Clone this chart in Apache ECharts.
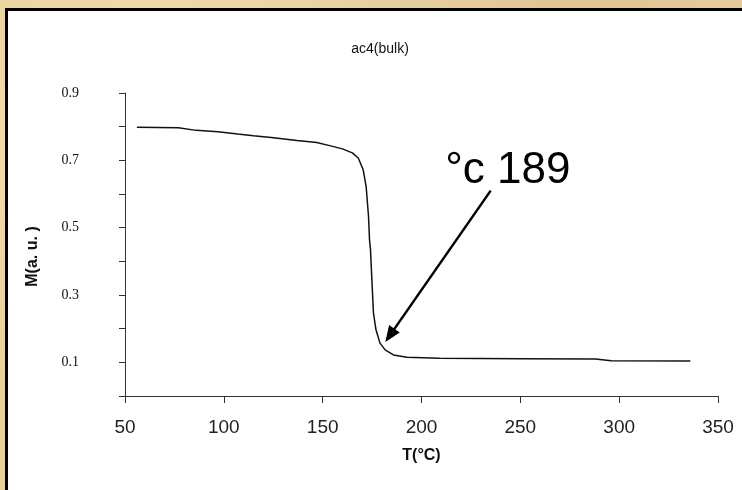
<!DOCTYPE html>
<html>
<head>
<meta charset="utf-8">
<script src="https://cdn.jsdelivr.net/npm/echarts@6/dist/echarts.min.js"></script>
<style>
    html, body {margin: 0; padding: 0; width: 742px; height: 490px; overflow: hidden;
        background: #e8d1a0;
        background-image: radial-gradient(circle at 20% 30%, rgba(255,240,200,0.5), rgba(0,0,0,0) 40%),
                          radial-gradient(circle at 80% 10%, rgba(200,160,100,0.25), rgba(0,0,0,0) 35%);}
    #frame {position: absolute; left: 5px; top: 8px; width: 745px; height: 490px; background: #fff;
        border-left: 3px solid #000; border-top: 3px solid #000;}
    #chart {position: absolute; left: 0; top: 0; width: 742px; height: 490px;}
</style>
</head>
<body>
<div id="frame"></div>
<div id="chart"></div>
<script>
    // 温度 (°C)
    var tempC = [56, 77, 86, 97, 107, 115, 124, 137, 147, 154, 160, 165, 168, 170.5, 172, 173.2, 173.7,
        174.2, 174.9, 175.7, 177, 179, 181.6, 185.8, 192.6, 209, 250, 288, 296, 336];
    // 磁化强度 M (a.u.)
    var magnet = [0.798, 0.797, 0.789, 0.785, 0.778, 0.773, 0.768, 0.759, 0.753, 0.743, 0.734, 0.722, 0.707,
        0.672, 0.622, 0.533, 0.464, 0.434, 0.345, 0.246, 0.196, 0.157, 0.137, 0.122, 0.115, 0.112, 0.111,
        0.110, 0.105, 0.104];
    var xTicks = [50, 100, 150, 200, 250, 300, 350];
    var yTickLabels = ['0.1', '0.3', '0.5', '0.7', '0.9'];
    // 标注
    var noteText = '°c 189';
    var notePos = [212, 0.67];
    var arrowFrom = [235, 0.61];
    var arrowTo = [184, 0.18];

    var curve = [];
    for (var i = 0; i < tempC.length; i++) {
        curve.push([tempC[i], magnet[i]]);
    }

    var myChart = echarts.init(document.getElementById('chart'));
    var option = {
        animation: false,
        title: {
            text: 'ac4(bulk)',
            left: 375,
            top: 37,
            textAlign: 'center',
            textStyle: {fontFamily: 'Liberation Sans', fontSize: 14, fontWeight: 'normal', color: '#111'}
        },
        grid: {left: 125, top: 93, right: 24, bottom: 94},
        xAxis: {
            type: 'value',
            min: xTicks[0],
            max: xTicks[xTicks.length - 1],
            interval: 50,
            name: 'T(°C)',
            nameLocation: 'middle',
            nameGap: 52,
            nameTextStyle: {fontFamily: 'Liberation Sans', fontSize: 16, fontWeight: 'bold', color: '#111'},
            axisLine: {lineStyle: {color: '#333', width: 1}},
            axisTick: {show: true, inside: false, length: 7, lineStyle: {color: '#333'}},
            axisLabel: {margin: 22, fontFamily: 'Liberation Sans', fontSize: 19, color: '#222'},
            splitLine: {show: false}
        },
        yAxis: {
            type: 'value',
            min: 0,
            max: 0.9,
            interval: 0.1,
            name: 'M(a. u. )',
            nameLocation: 'middle',
            nameGap: 84,
            nameRotate: 90,
            nameTextStyle: {fontFamily: 'Liberation Sans', fontSize: 16, fontWeight: 'bold', color: '#111',
                padding: [0, 24, 0, 0]},
            axisLine: {show: true, lineStyle: {color: '#333', width: 1}},
            axisTick: {show: true, inside: false, length: 6, lineStyle: {color: '#333'}},
            axisLabel: {
                margin: 46,
                fontFamily: 'Liberation Serif',
                fontSize: 14,
                color: '#111',
                padding: [0, 0, 8, 0],
                formatter: function (v) {
                    var s = v.toFixed(1);
                    return yTickLabels.indexOf(s) >= 0 ? s : '';
                }
            },
            splitLine: {show: false}
        },
        series: [
            {
                type: 'line',
                data: curve,
                showSymbol: false,
                symbol: 'none',
                lineStyle: {color: '#111', width: 1.5},
                markLine: {
                    silent: true,
                    symbol: ['none', 'triangle'],
                    symbolSize: [13, 16],
                    label: {show: false},
                    lineStyle: {color: '#000', width: 2.5, type: 'solid'},
                    emphasis: {disabled: true},
                    data: [[{coord: arrowFrom}, {coord: arrowTo}]]
                },
                markPoint: {
                    silent: true,
                    symbol: 'circle',
                    symbolSize: 0,
                    label: {
                        show: true,
                        position: 'right',
                        distance: 0,
                        formatter: noteText,
                        fontFamily: 'Liberation Sans',
                        fontSize: 44,
                        color: '#000'
                    },
                    data: [{coord: notePos}]
                }
            }
        ]
    };
    myChart.setOption(option);
</script>
</body>
</html>
